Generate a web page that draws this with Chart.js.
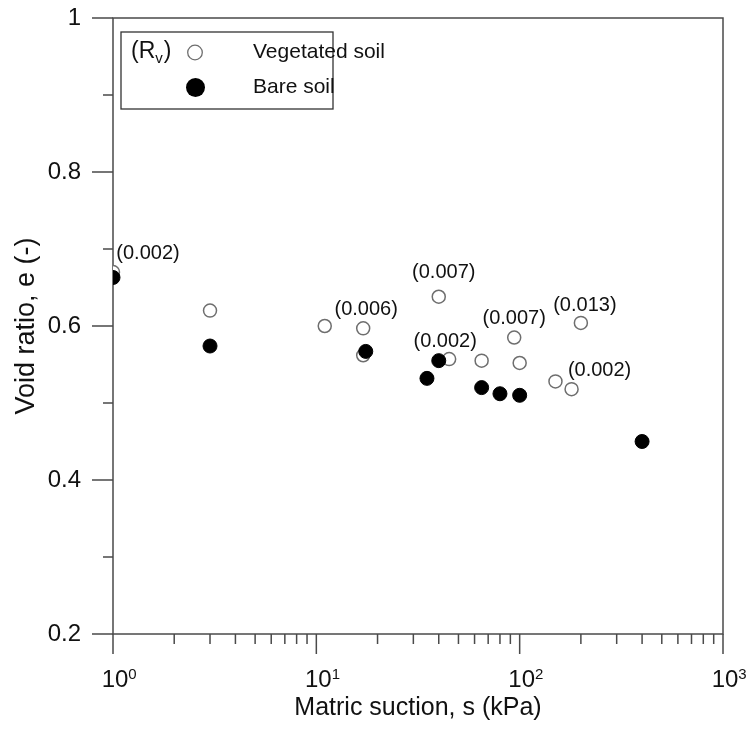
<!DOCTYPE html>
<html>
<head>
<meta charset="utf-8">
<title>Void ratio vs matric suction</title>
<script src="https://cdn.jsdelivr.net/npm/chart.js@4.4.1/dist/chart.umd.min.js"></script>
<style>
  body { margin: 0; background: #fff; }
  canvas { display: block; }
</style>
</head>
<body>
<canvas id="void-ratio" width="748" height="729"></canvas>
<script>
// vegetated soil: suction (kPa), void ratio and root volume ratio labels
const vegSuction = [1, 3, 11, 17, 17, 40, 45, 65, 94, 100, 150, 180, 200];
const vegVoid = [0.670, 0.620, 0.600, 0.597, 0.562, 0.638, 0.557, 0.555, 0.585, 0.552, 0.528, 0.518, 0.604];
const vegRv = ['(0.002)', null, null, '(0.006)', null, '(0.007)', '(0.002)', null, '(0.007)', null, null, '(0.002)', '(0.013)'];

// bare soil
const bareSuction = [1, 3, 17.5, 35, 40, 65, 80, 100, 400];
const bareVoid = [0.663, 0.574, 0.567, 0.532, 0.555, 0.520, 0.512, 0.510, 0.450];

const xTicks = [1, 10, 100, 1000];
const yTicks = [0.2, 0.4, 0.6, 0.8, 1];
const yMinor = [0.3, 0.5, 0.7, 0.9];

// where each Rv label sits relative to its point (px)
const rvOffsets = [[35, -19], null, null, [3, -19], null, [5, -24], [-4, -18], null, [0, -19], null, null, [28, -19], [4, -17]];

const FONT = "'Liberation Sans', Arial, sans-serif";

function toPoints(xs, ys) {
    return xs.map((v, i) => ({x: v, y: ys[i]}));
}

function xMinorTicks() {
    let out = [];
    for (let k = 0; k < 3; k++) {
        for (let m = 2; m <= 9; m++) out.push(m * Math.pow(10, k));
    }
    return out;
}

// keep the plot box fixed: no extra room for overhanging labels
function fixAxis(s, size) {
    if (s.isHorizontal()) s.height = size; else s.width = size;
    s.paddingTop = 0;
    s.paddingBottom = 0;
    s.paddingLeft = 0;
    s.paddingRight = 0;
}

// box round the plot, outward tick marks and the 10^n labels
const frame = {
    id: 'frame',
    beforeDatasetsDraw(chart) {
        const {ctx, chartArea: a, scales: {x, y}} = chart;
        ctx.save();
        ctx.strokeStyle = '#4a4a4a';
        ctx.lineWidth = 1.5;
        ctx.strokeRect(a.left, a.top, a.right - a.left, a.bottom - a.top);
        ctx.beginPath();
        yTicks.forEach(v => {
            const py = y.getPixelForValue(v);
            ctx.moveTo(a.left - 21, py);
            ctx.lineTo(a.left, py);
        });
        yMinor.forEach(v => {
            const py = y.getPixelForValue(v);
            ctx.moveTo(a.left - 10, py);
            ctx.lineTo(a.left, py);
        });
        xTicks.forEach(v => {
            const px = x.getPixelForValue(v);
            ctx.moveTo(px, a.bottom);
            ctx.lineTo(px, a.bottom + 20);
        });
        xMinorTicks().forEach(v => {
            const px = x.getPixelForValue(v);
            ctx.moveTo(px, a.bottom);
            ctx.lineTo(px, a.bottom + 10);
        });
        ctx.stroke();

        ctx.fillStyle = '#111';
        ctx.textBaseline = 'alphabetic';
        ctx.textAlign = 'left';
        xTicks.forEach(v => {
            const px = x.getPixelForValue(v);
            const exp = String(Math.round(Math.log10(v)));
            ctx.font = '24px ' + FONT;
            const wb = ctx.measureText('10').width;
            const left = px + 2 - wb / 2;
            ctx.fillText('10', left, a.bottom + 53);
            ctx.font = '15px ' + FONT;
            ctx.fillText(exp, left + wb, a.bottom + 45);
        });
        ctx.restore();
    }
};

// Rv values written above the vegetated points
const rvLabels = {
    id: 'rvLabels',
    afterDatasetsDraw(chart) {
        const {ctx} = chart;
        const meta = chart.getDatasetMeta(0);
        ctx.save();
        ctx.font = '20px ' + FONT;
        ctx.fillStyle = '#111';
        ctx.textAlign = 'center';
        ctx.textBaseline = 'middle';
        vegRv.forEach((txt, i) => {
            if (!txt) return;
            const pt = meta.data[i];
            const off = rvOffsets[i];
            ctx.fillText(txt, pt.x + off[0], pt.y + off[1]);
        });
        ctx.restore();
    }
};

const legendBox = {
    id: 'legendBox',
    afterDraw(chart) {
        const {ctx} = chart;
        ctx.save();
        ctx.strokeStyle = '#333';
        ctx.lineWidth = 1.3;
        ctx.strokeRect(121, 32, 212, 77);

        ctx.fillStyle = '#111';
        ctx.textBaseline = 'middle';
        ctx.textAlign = 'left';
        ctx.font = '23px ' + FONT;
        let tx = 131;
        ctx.fillText('(R', tx, 52);
        tx += ctx.measureText('(R').width;
        ctx.font = '15px ' + FONT;
        ctx.fillText('v', tx, 59);
        tx += ctx.measureText('v').width + 1;
        ctx.font = '23px ' + FONT;
        ctx.fillText(')', tx, 52);

        ctx.font = '21px ' + FONT;
        ctx.fillText('Vegetated soil', 253, 52);
        ctx.fillText('Bare soil', 253, 87);

        ctx.beginPath();
        ctx.arc(195, 52.5, 7.3, 0, Math.PI * 2);
        ctx.fillStyle = '#fff';
        ctx.fill();
        ctx.strokeStyle = '#6e6e6e';
        ctx.stroke();

        ctx.beginPath();
        ctx.arc(195.5, 87.5, 9.5, 0, Math.PI * 2);
        ctx.fillStyle = '#000';
        ctx.fill();
        ctx.restore();
    }
};

function makeChart() {
    const ctx = document.getElementById('void-ratio').getContext('2d');
    new Chart(ctx, {
        type: 'scatter',
        data: {
            datasets: [{
                label: 'Vegetated soil',
                data: toPoints(vegSuction, vegVoid),
                pointRadius: 6.5,
                pointBackgroundColor: '#fff',
                pointBorderColor: '#6e6e6e',
                pointBorderWidth: 1.5,
                order: 1
            }, {
                label: 'Bare soil',
                data: toPoints(bareSuction, bareVoid),
                pointRadius: 7,
                pointBackgroundColor: '#000',
                pointBorderColor: '#000',
                pointBorderWidth: 1,
                order: 0
            }]
        },
        options: {
            responsive: false,
            animation: false,
            layout: {padding: {top: 18, right: 25, left: 0, bottom: 0}},
            plugins: {
                legend: {display: false},
                tooltip: {enabled: false}
            },
            scales: {
                x: {
                    type: 'logarithmic',
                    min: 1,
                    max: 1000,
                    afterBuildTicks: (s) => { s.ticks = xTicks.map(v => ({value: v})); },
                    afterFit: (s) => fixAxis(s, 95),
                    grid: {display: false, drawTicks: false},
                    border: {display: false},
                    ticks: {display: false},
                    title: {
                        display: true,
                        text: 'Matric suction, s (kPa)',
                        color: '#111',
                        padding: {top: 0, bottom: 6},
                        font: {family: FONT, size: 25}
                    }
                },
                y: {
                    min: 0.2,
                    max: 1,
                    afterBuildTicks: (s) => { s.ticks = yTicks.map(v => ({value: v})); },
                    afterFit: (s) => fixAxis(s, 113),
                    grid: {display: false, drawTicks: false},
                    border: {display: false},
                    ticks: {
                        padding: 32,
                        color: '#111',
                        font: {family: FONT, size: 24},
                        callback: (v) => String(Number(v.toFixed(1)))
                    },
                    title: {
                        display: true,
                        text: 'Void ratio, e (-)',
                        color: '#111',
                        padding: {top: 10, bottom: 0},
                        font: {family: FONT, size: 27}
                    }
                }
            }
        },
        plugins: [frame, rvLabels, legendBox]
    });
}

makeChart();
</script>
</body>
</html>
